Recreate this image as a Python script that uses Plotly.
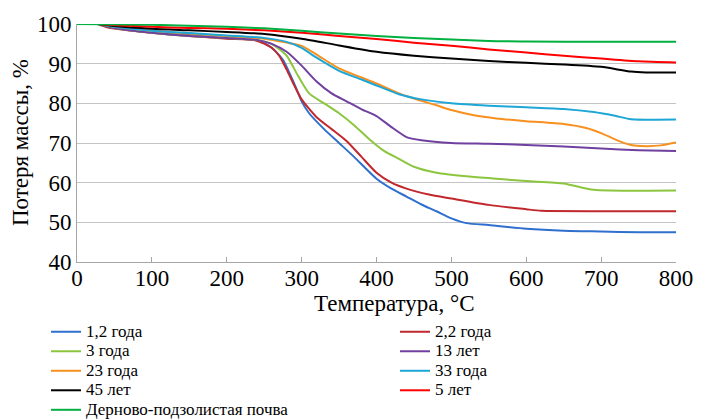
import plotly.graph_objects as go

# ---- data ----
t_blue = [28, 40, 100, 150, 200, 240, 260, 275, 290, 300, 310, 330, 350, 370, 400, 420, 440, 460, 480, 500, 520, 550, 600, 650, 700, 750, 800]
y_blue = [100, 99.5, 97.8, 97.2, 96.5, 96.0, 94.0, 91.0, 85.0, 80.5, 77.5, 73.5, 70.0, 66.5, 61.0, 58.5, 56.5, 54.5, 52.8, 51.0, 49.8, 49.3, 48.4, 47.9, 47.7, 47.5, 47.5]

t_dred = [28, 40, 100, 150, 200, 240, 260, 270, 280, 290, 300, 320, 340, 360, 380, 400, 420, 440, 470, 500, 550, 600, 620, 700, 800]
y_dred = [100, 99.2, 97.8, 97.0, 96.3, 95.8, 94.0, 92.0, 88.5, 84.6, 81.0, 76.5, 73.5, 70.5, 66.5, 62.5, 60.0, 58.5, 57.0, 56.0, 54.4, 53.3, 52.9, 52.8, 52.8]

t_lgreen = [28, 50, 100, 150, 200, 240, 260, 280, 295, 310, 330, 350, 370, 390, 410, 430, 450, 480, 520, 560, 600, 650, 690, 800]
y_lgreen = [100, 99.0, 97.8, 97.0, 96.5, 96.0, 95.0, 92.0, 87.0, 82.5, 80.0, 77.5, 74.5, 71.0, 68.0, 66.0, 64.0, 62.5, 61.6, 61.0, 60.4, 59.8, 58.2, 58.0]

t_purple = [28, 50, 100, 150, 200, 240, 260, 280, 300, 320, 340, 360, 380, 400, 420, 440, 460, 500, 550, 600, 650, 700, 750, 800]
y_purple = [100, 99.0, 97.8, 97.0, 96.5, 96.0, 95.0, 93.0, 89.5, 85.5, 82.5, 80.5, 78.5, 76.8, 74.0, 71.5, 70.7, 70.0, 69.8, 69.5, 69.1, 68.6, 68.2, 68.0]

t_orange = [28, 50, 100, 150, 200, 250, 280, 300, 320, 350, 380, 400, 430, 450, 480, 500, 530, 560, 600, 650, 680, 700, 720, 740, 760, 780, 800]
y_orange = [100, 99.3, 98.3, 97.6, 97.0, 96.3, 95.3, 94.5, 92.3, 88.8, 86.5, 85.0, 82.5, 81.2, 79.5, 78.3, 77.0, 76.2, 75.5, 74.8, 73.8, 72.5, 70.8, 69.5, 69.2, 69.4, 70.1]

t_lblue = [28, 50, 100, 150, 200, 250, 280, 300, 320, 350, 380, 400, 430, 460, 500, 550, 600, 650, 690, 720, 740, 800]
y_lblue = [100, 99.3, 98.3, 97.7, 97.1, 96.5, 95.5, 94.0, 91.5, 88.2, 86.0, 84.5, 82.3, 81.0, 80.0, 79.4, 79.0, 78.6, 77.8, 76.8, 76.0, 75.9]

t_black = [28, 50, 100, 150, 200, 250, 300, 350, 400, 450, 500, 550, 600, 650, 700, 740, 760, 800]
y_black = [100, 99.5, 98.8, 98.4, 98.0, 97.5, 96.3, 94.6, 93.0, 92.0, 91.3, 90.7, 90.2, 89.8, 89.2, 88.0, 87.8, 87.8]

t_red = [28, 50, 100, 150, 200, 250, 300, 350, 400, 450, 500, 550, 600, 650, 700, 750, 800]
y_red = [100, 99.7, 99.3, 99.0, 98.8, 98.4, 97.8, 97.0, 96.2, 95.3, 94.5, 93.6, 92.8, 92.0, 91.3, 90.6, 90.3]

t_soil = [0, 100, 200, 250, 300, 350, 400, 450, 500, 550, 600, 700, 800]
y_soil = [100, 99.8, 99.3, 98.9, 98.3, 97.6, 97.0, 96.5, 96.1, 95.7, 95.6, 95.5, 95.5]

names = ["1,2 года", "2,2 года", "3 года", "13 лет", "23 года", "33 года",
         "45 лет", "5 лет", "Дерново-подзолистая почва"]
xs = [t_blue, t_dred, t_lgreen, t_purple, t_orange, t_lblue, t_black, t_red, t_soil]
ys = [y_blue, y_dred, y_lgreen, y_purple, y_orange, y_lblue, y_black, y_red, y_soil]
colors = ["#2f6fce", "#c0282d", "#8cc63f", "#7040a0", "#f7901e", "#1ea6d6",
          "#000000", "#ff0000", "#00b040"]

x_ticks = [0, 100, 200, 300, 400, 500, 600, 700, 800]
y_ticks = [40, 50, 60, 70, 80, 90, 100]

FONT = "Liberation Serif"
LEG_TEXT = '<span style="font-size:17px">{}</span>'

fig = go.Figure()
for i, (n, x, y, c) in enumerate(zip(names, xs, ys, colors)):
    fig.add_trace(go.Scatter(x=x, y=y, name=LEG_TEXT.format(n), mode="lines",
                             legend="legend" if i % 2 == 0 else "legend2",
                             hovertemplate=n + "<br>%{x} °C, %{y}%<extra></extra>",
                             line=dict(color=c, width=2, shape="spline", smoothing=0.6)))

leg_common = dict(orientation="h", xref="container", yref="container",
                  xanchor="left", yanchor="top",
                  entrywidth=330, entrywidthmode="pixels",
                  font=dict(family=FONT, size=12.7, color="black"),
                  bgcolor="rgba(0,0,0,0)", traceorder="normal")

fig.update_layout(
    width=705, height=420,
    paper_bgcolor="white", plot_bgcolor="white",
    margin=dict(l=77, r=22, t=21, b=158),
    font=dict(family=FONT, size=23, color="black"),
    showlegend=True,
    legend=dict(leg_common, x=46 / 705, y=(420 - 317) / 420),
    legend2=dict(leg_common, x=395 / 705, y=(420 - 317) / 420),
    annotations=[
        dict(text="Температура, °C", xref="paper", yref="paper", x=0.53, y=-0.176,
             xanchor="center", yanchor="middle", showarrow=False,
             font=dict(family=FONT, size=23)),
        dict(text="Потеря массы, %", xref="paper", yref="paper", x=-0.095, y=0.5,
             xanchor="center", yanchor="middle", showarrow=False, textangle=-90,
             font=dict(family=FONT, size=23)),
    ],
)
fig.update_xaxes(range=[0, 800], tickvals=x_ticks, ticktext=[str(v) for v in x_ticks],
                 showgrid=False, zeroline=False, showline=True, linecolor="#a6a6a6",
                 linewidth=1, ticks="inside", ticklen=5, tickcolor="#a6a6a6",
                 ticklabelstandoff=-5,
                 tickfont=dict(family=FONT, size=23))
fig.update_yaxes(range=[40, 100], tickvals=y_ticks, ticktext=[str(v) for v in y_ticks],
                 showgrid=True, gridcolor="#c4c4c4", gridwidth=1, zeroline=False,
                 showline=True, linecolor="#a6a6a6", linewidth=1, ticks="",
                 tickfont=dict(family=FONT, size=23))

fig.write_html("out.html", config={"displayModeBar": False},
               post_script="document.body.style.margin='0';")
